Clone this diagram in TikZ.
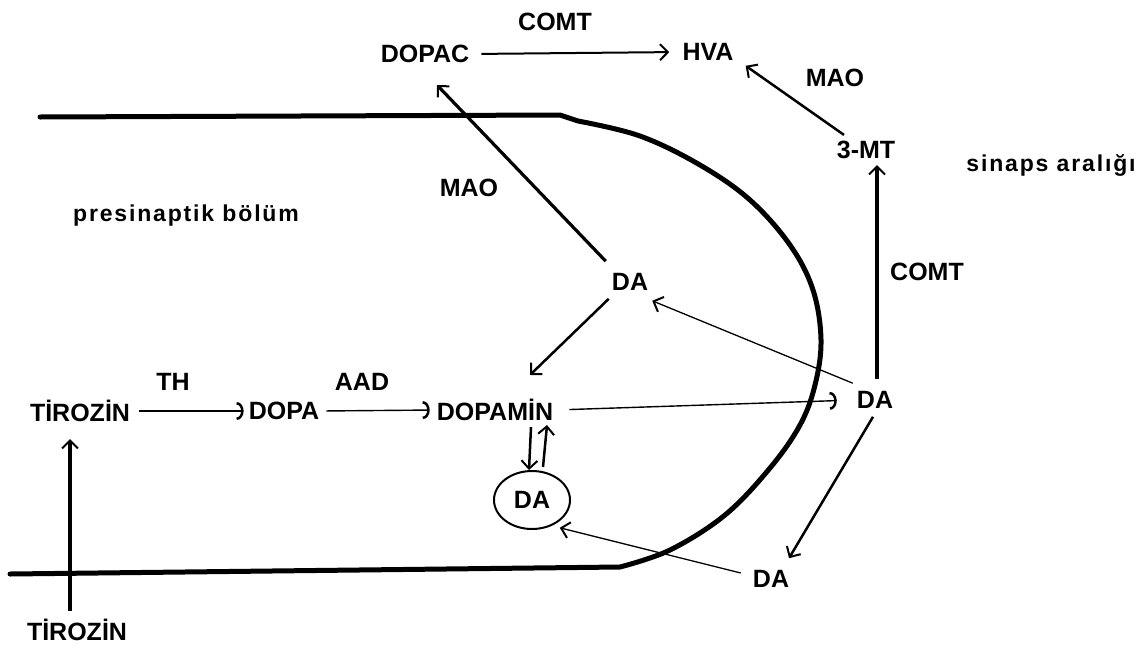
\documentclass[tikz,border=0pt]{standalone}
\usepackage{fontspec}
\setmainfont{Liberation Sans}
\usetikzlibrary{arrows.meta,shapes.geometric,calc}
\begin{document}
\begin{tikzpicture}[x=1pt,y=-1pt,
  lbl/.style={font=\bfseries\fontsize{25}{29}\selectfont, inner sep=2pt},
  small/.style={font=\bfseries\fontsize{23}{27}\selectfont, inner sep=2pt},
  arr/.style={-{Straight Barb[length=8pt,width=16pt,line width=2pt]}, line width=2pt},
  thickarr/.style={arr, line width=3.2pt},
  thinarr/.style={arr, line width=1.3pt},
  arcarr/.style={-{Arc Barb[length=7pt,width=18pt,line width=2.5pt]}, line width=1.4pt},
  membrane/.style={line width=5pt, line cap=round, line join=round}]
\useasboundingbox (0,0) rectangle (1147,648);
% membrane
\draw[membrane] (40,117) -- (560,115) -- plot[smooth, tension=0.6] coordinates {(578,121) (640,136) (700,165) (750,200) (790,245) (813,290) (821,340) (815,385) (800,425) (770,468) (725,515) (670,550) (620,567)} -- (10,574);
% nodes
\node[lbl] (dopac) at (425,54) {DOPAC};
\node[lbl] (comta) at (555,22) {COMT};
\node[lbl] (hva) at (708,52) {HVA};
\node[lbl] (maob) at (835,78) {MAO};
\node[lbl] (mt) at (866,150) {3-MT};
\node[small] (sinaps) at (1051,165) {\addfontfeatures{LetterSpace=8}sinaps aralığı};
\node[small] (pres) at (186,216) {\addfontfeatures{LetterSpace=8}presinaptik bölüm};
\node[lbl] (maoa) at (469,188) {MAO};
\node[lbl] (daa) at (630,282) {DA};
\node[lbl] (comtb) at (927,272) {COMT};
\node[lbl] (dab) at (875,400) {DA};
\node[lbl] (th) at (173,382) {TH};
\node[lbl] (aad) at (362,382) {AAD};
\node[lbl] (tira) at (80,411) {TİROZİN};
\node[lbl] (dopa) at (284,411) {DOPA};
\node[lbl] (dopamin) at (495,410) {DOPAMİN};
\node[lbl, ellipse, draw, line width=2pt, minimum width=76pt, minimum height=58pt] (ves) at (532,500) {DA};
\node[lbl] (dac) at (771,579) {DA};
\node[lbl] (tirb) at (77,630) {TİROZİN};
% connectors
\draw[arr, shorten <=10pt, shorten >=11pt] (dopac.east) -- (hva.west);
\draw[thickarr] ($(daa.north west)+(-4,-10)$) -- ($(dopac.south)+(12,20)$);
\draw[arr, line width=2.5pt] ($(mt.north)+(-22,-4)$) -- ($(hva.south east)+(10,3)$);
\draw[thickarr] ($(dab.north)+(2,-10)$) -- ($(mt.south)+(11,4)$);
\draw[thinarr] ($(dab.north west)+(-2,-6)$) -- ($(daa.south east)+(2,8)$);
\draw[arr, line width=2.5pt] ($(daa.south west)+(-1,6)$) -- ($(dopamin.north)+(35,-22)$);
\draw[arcarr, shorten <=7pt, shorten >=3pt] (tira.east) -- (dopa.west);
\draw[arcarr, shorten <=5pt, shorten >=5pt] (dopa.east) -- (dopamin.west);
\draw[arcarr, shorten <=14pt, shorten >=18pt] (dopamin.east) -- (dab.west);
\draw[arr, line width=2.5pt] ($(dopamin.south)+(36,4)$) -- ($(ves.north)+(-3,0)$);
\draw[arr, line width=2.5pt] ($(ves.north)+(11,-3)$) -- ($(dopamin.south)+(52,2)$);
\draw[arr, line width=2.5pt] ($(dab.south)+(-2,6)$) -- ($(dac.north)+(18,-10)$);
\draw[thinarr] ($(dac.west)+(-10,-6)$) -- ($(ves.-45)+(4,4)$);
\draw[thickarr] ($(tirb.north)+(-7,-6)$) -- ($(tira.south)+(-10,15)$);
\end{tikzpicture}
\end{document}
